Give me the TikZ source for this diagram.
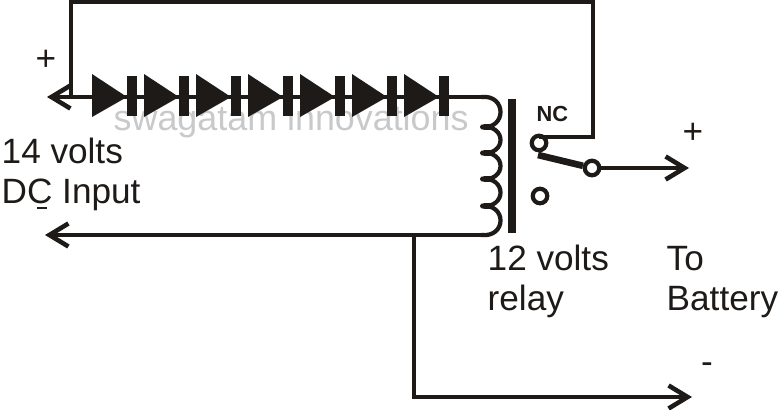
\documentclass[tikz,border=0pt]{standalone}
\usepackage{fontspec}
\setmainfont{Liberation Sans}
\usepackage{tikz}
\usetikzlibrary{arrows.meta}
\definecolor{wirecol}{HTML}{1E1A18}
\definecolor{markcol}{HTML}{C9C9C9}

\begin{document}
\begin{tikzpicture}[
x=0.01cm,y=-0.01cm,
Wire/.style={draw=wirecol,line width=1.05pt},
ArrowWire/.style={Wire,-{Straight Barb[length=1.9mm,width=2.3mm,line width=1.3pt]}},
Contact/.style={circle,draw=wirecol,fill=white,line width=1.2pt,minimum size=1.45mm,inner sep=0pt},
Label/.style={inner sep=0pt,anchor=base west,text=wirecol,font=\fontsize{10}{12}\selectfont},
Sign/.style={Label,anchor=center}
]
\useasboundingbox (0,0) rectangle (779,409);
\fill[white] (0,0) rectangle (779,409);

% watermark goes under the wires
\node[text=markcol,inner sep=0pt,anchor=base west,font=\fontsize{10.2}{12}\selectfont] (Mark) at (113,130) {swagatam innovations};

% wire corners
\coordinate (InTop) at (47,97);
\coordinate (Tee) at (71,97);
\coordinate (TopL) at (71,2);
\coordinate (TopR) at (593,2);
\coordinate (CornerNC) at (593,137);
\coordinate (CoilTop) at (481,97);
\coordinate (CoilBot) at (481,235);
\coordinate (InBot) at (45,235);
\coordinate (Branch) at (414,235);
\coordinate (BranchD) at (414,397);
\coordinate (OutMinus) at (692,397);
\coordinate (OutPlus) at (689,168);
\coordinate (ArmEnd) at (538,155);

% relay contacts
\node[Contact] (NCpin) at (539,143) {};
\node[Contact] (NOpin) at (540,196) {};
\node[Contact] (Pole) at (592,168) {};

\draw[ArrowWire] (CoilTop)--(InTop);
\draw[Wire] (Tee)--(TopL)--(TopR)--(CornerNC)--(CornerNC-|NCpin);
\draw[ArrowWire] (CoilBot)--(InBot);
\draw[ArrowWire] (Branch)--(BranchD)--(OutMinus);
\draw[ArrowWire] (Pole)--(OutPlus);
\draw[draw=wirecol,line width=1.9pt] (ArmEnd)--(Pole);

% diodes
\foreach \X in {92,144,196,248,300,352,404}{
\fill[wirecol] (\X,74)--(\X+35,97)--(\X,117)--cycle;
\fill[wirecol] (\X+35,76) rectangle (\X+45,116);
}

% coil
\foreach \Ya/\Yb in {97/127,127/153,153/179,179/206,206/235}{
\draw[draw=wirecol,line width=1.2pt] (481,\Ya) .. controls (507,\Ya-3) and (507,\Yb+3) .. (481,\Yb);
}
\foreach \Ya in {127,153,179,206}{
\fill[wirecol] (487,\Ya) ellipse (7 and 3);
}
\fill[wirecol] (508,99) rectangle (516,233);

% texts
\node[Label] (Vin) at (1,163) {14 volts};
\node[Label] (Dc) at (1,203) {DC Input};
\draw[wirecol,line width=0.4pt] (37,208)--(47,208);
\node[Label] (Rel) at (487,270) {12 volts};
\node[Label] (Rel2) at (487,310) {relay};
\node[Label] (To) at (666,270) {To};
\node[Label] (Bat) at (666,310) {Battery};
\node[Label,font=\fontsize{6.2}{8}\bfseries] (NC) at (536,121) {NC};
\node[Sign] (PlusL) at (46,60) {+};
\node[Sign] (PlusR) at (693,133) {+};
\node[Sign] (Minus) at (707,368) {-};
\end{tikzpicture}
\end{document}
